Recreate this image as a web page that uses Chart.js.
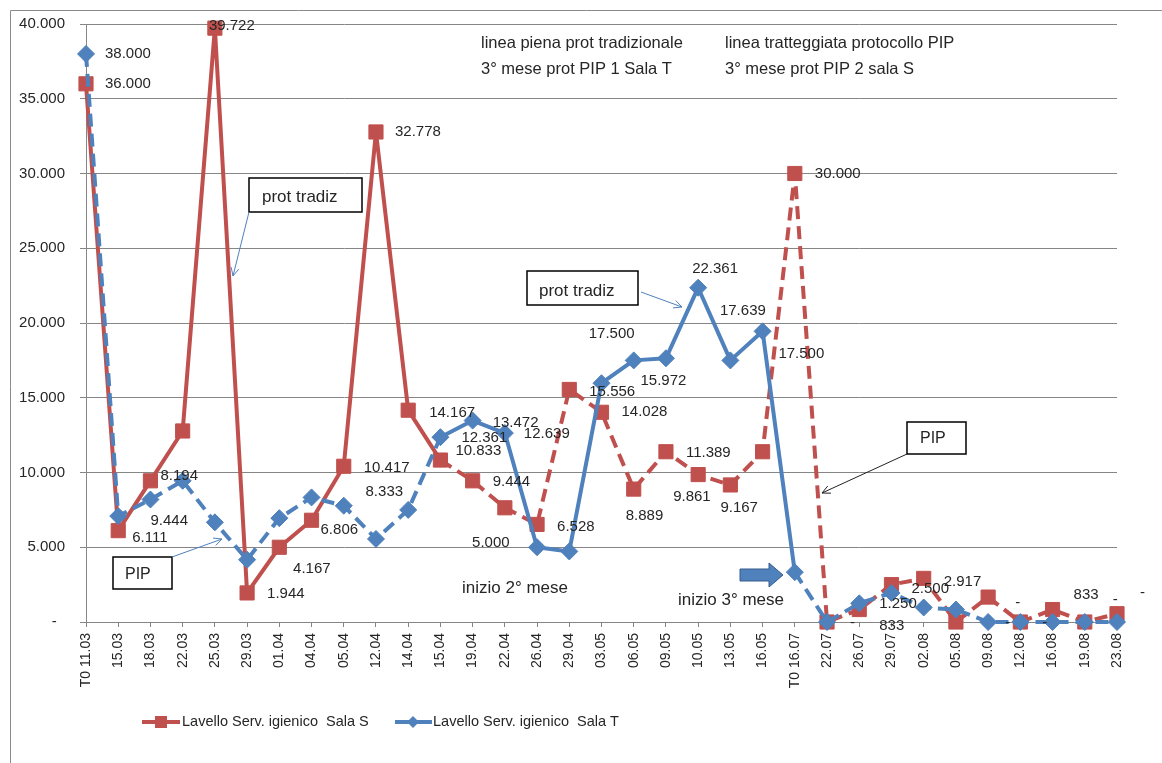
<!DOCTYPE html>
<html>
<head>
<meta charset="utf-8">
<script src="https://cdn.jsdelivr.net/npm/chart.js@4.4.1/dist/chart.umd.min.js"></script>
<style>
  html, body { margin: 0; padding: 0; background: #fff; }
  canvas { display: block; }
</style>
</head>
<body>
<canvas id="chart" width="1162" height="763"></canvas>
<script>
const dates = ["T0 11.03", "15.03", "18.03", "22.03", "25.03", "29.03", "01.04", "04.04", "05.04", "12.04",
  "14.04", "15.04", "19.04", "22.04", "26.04", "29.04", "03.05", "06.05", "09.05", "10.05", "13.05", "16.05",
  "T0 16.07", "22.07", "26.07", "29.07", "02.08", "05.08", "09.08", "12.08", "16.08", "19.08", "23.08"];

const salaS = [36000, 6111, 9444, 12778, 39722, 1944, 5000, 6806, 10417, 32778,
  14167, 10833, 9444, 7639, 6528, 15556, 14028, 8889, 11389, 9861, 9167, 11389,
  30000, 0, 833, 2500, 2917, 0, 1667, 0, 833, 0, 556];

const salaT = [38000, 7083, 8194, 9444, 6667, 4167, 6944, 8333, 7778, 5556,
  7500, 12361, 13472, 12639, 5000, 4722, 15972, 17500, 17639, 22361, 17500, 19444,
  3333, 0, 1250, 1944, 972, 833, 0, 0, 0, 0, 0];

const seriesNames = ["Lavello Serv. igienico  Sala S", "Lavello Serv. igienico  Sala T"];

// value labels shown on the picture: point index -> [dx, dy] from the marker
const labelPosS = {0: [19, 0], 1: [14, 7], 2: [0, 40], 4: [-6, -2], 5: [20, 1], 7: [9, 10], 8: [20, 2],
  9: [19, 0], 10: [21, 3], 11: [15, -9], 12: [20, 1], 14: [20, 2], 15: [20, 2], 16: [20, 0], 17: [-8, 27],
  18: [20, 1], 19: [-25, 22], 20: [-10, 23], 22: [20, 0], 23: [23, 1], 24: [20, 16], 25: [20, 4],
  26: [20, 3], 29: [22, 1], 30: [21, -15], 31: [28, -22]};
const labelPosT = {0: [19, 0], 2: [10, -24], 5: [46, 9], 7: [54, -6], 11: [21, 1], 12: [20, 2], 13: [19, 1],
  14: [-65, -4], 16: [39, -2], 17: [-45, -27], 18: [54, -47], 19: [-6, -19], 20: [48, -7], 24: [20, 1],
  28: [17, 1], 29: [-5, -19], 32: [23, -29]};

const RED = "#C0504D", BLUE = "#4F81BD", GRID = "#868686", TEXT = "#262626";
const FONT = "'Liberation Sans', Arial, sans-serif";
const DASH = [13, 7];

function fmt(v) {
  if (v === 0) return "-";
  return String(Math.round(v)).replace(/\B(?=(\d{3})+(?!\d))/g, ".");
}

function arrow(ctx, x1, y1, x2, y2, color) {
  const a = Math.atan2(y2 - y1, x2 - x1), h = 9;
  ctx.strokeStyle = color;
  ctx.lineWidth = 1;
  ctx.beginPath();
  ctx.moveTo(x1, y1);
  ctx.lineTo(x2, y2);
  ctx.moveTo(x2 - h * Math.cos(a - 0.45), y2 - h * Math.sin(a - 0.45));
  ctx.lineTo(x2, y2);
  ctx.lineTo(x2 - h * Math.cos(a + 0.45), y2 - h * Math.sin(a + 0.45));
  ctx.stroke();
}

function box(ctx, x, y, w, h, text, tx, ty) {
  ctx.fillStyle = "#fff";
  ctx.fillRect(x, y, w, h);
  ctx.strokeStyle = "#000";
  ctx.lineWidth = 1.5;
  ctx.strokeRect(x, y, w, h);
  ctx.fillStyle = TEXT;
  ctx.fillText(text, tx, ty);
}

const extras = {
  id: "extras",
  beforeDraw(chart) {
    const ctx = chart.ctx;
    ctx.save();
    ctx.fillStyle = "#fff";
    ctx.fillRect(0, 0, chart.width, chart.height);
    ctx.strokeStyle = "#8a8a8a";
    ctx.lineWidth = 1;
    ctx.beginPath();
    ctx.moveTo(10.5, chart.height);
    ctx.lineTo(10.5, 10.5);
    ctx.lineTo(chart.width, 10.5);
    ctx.stroke();
    ctx.restore();
  },
  afterDatasetsDraw(chart) {
    const ctx = chart.ctx;
    const tables = [labelPosS, labelPosT];
    ctx.save();
    ctx.font = "15px " + FONT;
    ctx.fillStyle = TEXT;
    ctx.textAlign = "left";
    ctx.textBaseline = "middle";
    chart.data.datasets.forEach((ds, i) => {
      const meta = chart.getDatasetMeta(i);
      Object.keys(tables[i]).forEach(k => {
        const p = meta.data[k], off = tables[i][k];
        ctx.fillText(fmt(ds.data[k]), p.x + off[0], p.y + off[1]);
      });
    });
    ctx.restore();
  },
  afterDraw(chart) {
    const ctx = chart.ctx;
    ctx.save();
    ctx.textAlign = "left";
    ctx.textBaseline = "middle";
    ctx.fillStyle = TEXT;

    ctx.font = "16.5px " + FONT;
    ctx.fillText("linea piena prot tradizionale", 481, 43);
    ctx.fillText("3° mese prot PIP 1 Sala T", 481, 69);
    ctx.fillText("linea tratteggiata protocollo PIP", 725, 43);
    ctx.fillText("3° mese prot PIP 2 sala S", 725, 69);

    ctx.font = "17px " + FONT;
    ctx.fillText("inizio 2° mese", 462, 588);
    ctx.fillText("inizio 3° mese", 678, 600);

    box(ctx, 249, 178, 113, 34, "prot tradiz", 262, 197);
    box(ctx, 527, 271, 111, 34, "prot tradiz", 539, 291);
    ctx.font = "16px " + FONT;
    box(ctx, 113, 557, 59, 32, "PIP", 125, 575);
    box(ctx, 907, 422, 59, 32, "PIP", 920, 439);

    arrow(ctx, 249, 212, 233, 276, BLUE);
    arrow(ctx, 641, 292, 682, 307, BLUE);
    arrow(ctx, 172, 557, 222, 539, BLUE);
    arrow(ctx, 907, 454, 822, 493, "#222");

    // block arrow before "inizio 3° mese"
    ctx.beginPath();
    ctx.moveTo(740, 569);
    ctx.lineTo(769, 569);
    ctx.lineTo(769, 563);
    ctx.lineTo(783, 575);
    ctx.lineTo(769, 587);
    ctx.lineTo(769, 581);
    ctx.lineTo(740, 581);
    ctx.closePath();
    ctx.fillStyle = BLUE;
    ctx.fill();
    ctx.strokeStyle = "#385D8A";
    ctx.lineWidth = 1;
    ctx.stroke();

    // legend
    const y = 722;
    ctx.lineWidth = 4;
    ctx.strokeStyle = RED;
    ctx.beginPath(); ctx.moveTo(142, y); ctx.lineTo(180, y); ctx.stroke();
    ctx.fillStyle = RED;
    ctx.fillRect(155, y - 6, 12, 12);
    ctx.strokeStyle = BLUE;
    ctx.beginPath(); ctx.moveTo(395, y); ctx.lineTo(432, y); ctx.stroke();
    ctx.fillStyle = BLUE;
    ctx.beginPath();
    ctx.moveTo(413, y - 6); ctx.lineTo(419, y); ctx.lineTo(413, y + 6); ctx.lineTo(407, y);
    ctx.closePath(); ctx.fill();
    ctx.font = "14.5px " + FONT;
    ctx.fillStyle = TEXT;
    ctx.fillText(seriesNames[0], 182, y);
    ctx.fillText(seriesNames[1], 433, y);
    ctx.restore();
  }
};

new Chart(document.getElementById("chart"), {
  type: "line",
  data: {
    labels: dates,
    datasets: [{
      label: seriesNames[0],
      data: salaS,
      borderColor: RED,
      backgroundColor: RED,
      borderWidth: 4,
      borderJoinStyle: "round",
      pointStyle: "rect",
      pointRadius: 10,
      pointBorderWidth: 1,
      clip: false,
      order: 2,
      segment: { borderDash: ctx => ctx.p0DataIndex >= 11 ? DASH : undefined }
    }, {
      label: seriesNames[1],
      data: salaT,
      borderColor: BLUE,
      backgroundColor: BLUE,
      borderWidth: 4,
      borderJoinStyle: "round",
      pointStyle: "rectRot",
      pointRadius: 8.5,
      pointBorderWidth: 1,
      clip: false,
      order: 1,
      segment: { borderDash: ctx => (ctx.p0DataIndex < 11 || ctx.p0DataIndex >= 22) ? DASH : undefined }
    }]
  },
  options: {
    responsive: false,
    animation: false,
    devicePixelRatio: 1,
    layout: { padding: { left: 0, top: 21, right: 45, bottom: 0 } },
    plugins: { legend: { display: false }, tooltip: { enabled: false } },
    scales: {
      x: {
        offset: false,
        grid: { drawOnChartArea: false, drawTicks: true, tickLength: 5, color: GRID },
        border: { color: GRID },
        ticks: { autoSkip: false, minRotation: 90, maxRotation: 90, padding: 6, color: TEXT,
          font: { family: FONT, size: 14 } },
        afterFit: s => { s.height = 141; }
      },
      y: {
        min: 0,
        max: 40000,
        grid: { color: GRID, tickLength: 6 },
        border: { color: GRID },
        ticks: { stepSize: 5000, padding: 15, color: TEXT, font: { family: FONT, size: 15 },
          callback: v => v === 0 ? "-  " : fmt(v) },
        afterFit: s => { s.width = 86; }
      }
    }
  },
  plugins: [extras]
});
</script>
</body>
</html>
